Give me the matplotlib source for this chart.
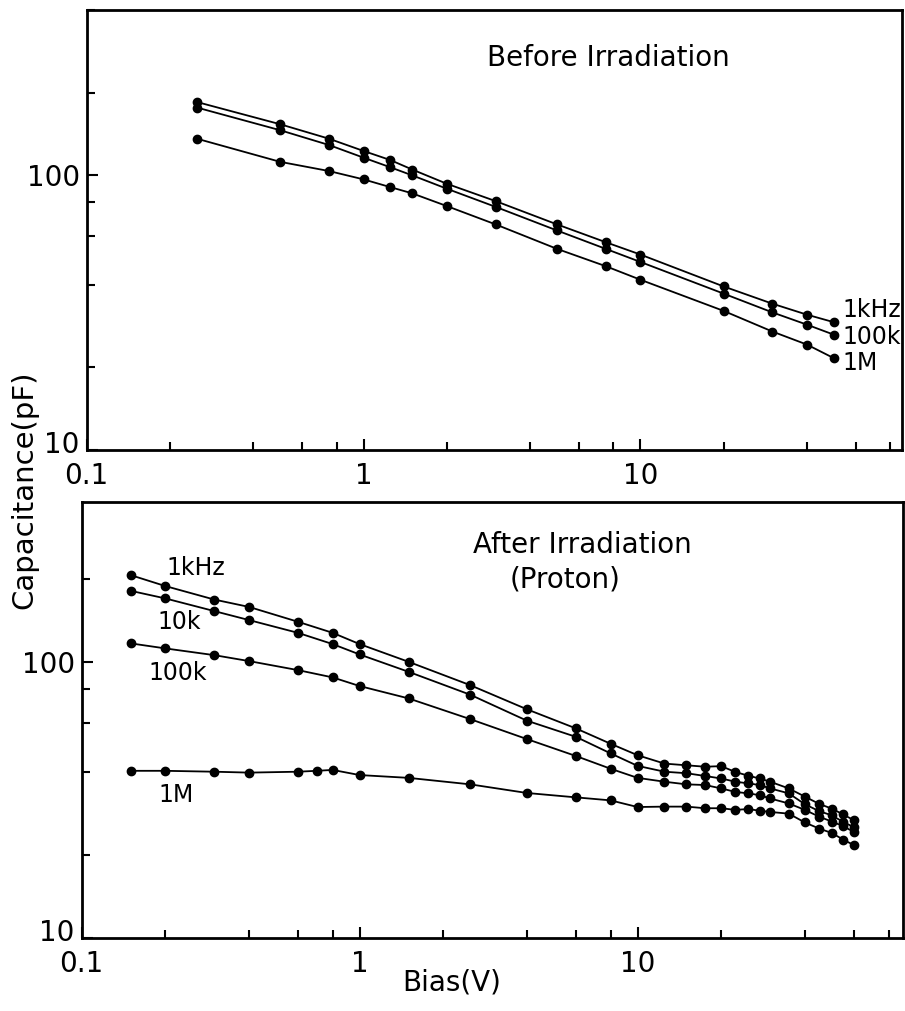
import matplotlib
matplotlib.use('Agg')
import matplotlib.pyplot as plt
from matplotlib.ticker import LogLocator, NullFormatter
from matplotlib.transforms import ScaledTranslation

# before irradiation
top_bias = [0.25, 0.5, 0.75, 1, 1.25, 1.5, 2, 3, 5, 7.5, 10, 20, 30, 40, 50]
top_1k = [185, 153.5, 136, 122.7, 113.7, 105, 93.2, 80.6, 66.3, 57.1, 51.5, 39.4, 34.1, 31.1, 29.2]
top_100k = [176.6, 146, 129, 116, 107, 100, 89.4, 76.8, 63, 54, 48.4, 37.1, 31.7, 28.6, 26.3]
top_1M = [136, 112, 103.7, 96.7, 90.6, 86, 77.3, 66.3, 54, 46.7, 41.7, 32.1, 27.0, 24.2, 21.6]

# after irradiation (proton)
bot_bias = [0.15, 0.2, 0.3, 0.4, 0.6, 0.8, 1, 1.5, 2.5, 4, 6, 8, 10, 12.5, 15, 17.5,
            20, 22.5, 25, 27.5, 30, 35, 40, 45, 50, 55, 60]
bot_1k = [206, 188, 168, 158, 139.6, 127.3, 115.9, 100, 82.3, 67.3, 57.4, 50.5, 45.9,
          42.8, 42.2, 41.7, 41.9, 39.9, 38.7, 37.8, 36.8, 34.8, 32.5, 30.6, 29.4, 28.0, 26.7]
bot_10k = [180.7, 169.6, 152.6, 141.6, 127.3, 115.9, 106.3, 92, 76, 61.2, 53.5, 46.6, 42,
           40, 39.5, 38.6, 37.8, 36.8, 36.3, 35.8, 34.8, 33.4, 30.5, 28.8, 27.8, 26.3, 25.2]
bot_100k = [116.6, 111.8, 105.7, 100.6, 93.3, 87.8, 81.7, 73.7, 62, 52.5, 45.6, 41, 38,
            36.8, 36, 35.8, 34.8, 33.8, 33.4, 32.9, 32, 30.7, 29.1, 27.5, 26.4, 25.4, 24.2]
bot_1M_bias = [0.15, 0.2, 0.3, 0.4, 0.6, 0.7, 0.8, 1, 1.5, 2.5, 4, 6, 8, 10, 12.5, 15, 17.5,
               20, 22.5, 25, 27.5, 30, 35, 40, 45, 50, 55, 60]
bot_1M = [40.3, 40.3, 40, 39.7, 40, 40.3, 40.6, 38.9, 38, 36, 33.5, 32.3, 31.5, 29.8,
          29.9, 29.9, 29.5, 29.5, 29.1, 29.3, 28.9, 28.6, 28.2, 26.2, 24.9, 24.0, 22.7, 21.7]

fig = plt.figure(figsize=(9.05, 10.11), dpi=100)
ax1 = fig.add_axes([0.0958, 0.5549, 0.9006, 0.4352])
ax2 = fig.add_axes([0.0903, 0.0722, 0.9072, 0.4316])


def style(ax, xmax, ymax):
    ax.set_xscale('log')
    ax.set_yscale('log')
    ax.set_xlim(0.1, xmax)
    ax.set_ylim(10, ymax)
    ax.set_xticks([0.1, 1, 10])
    ax.set_xticklabels(['0.1', '1', '10'])
    ax.set_yticks([10, 100])
    ax.set_yticklabels(['10', '100'])
    ax.xaxis.set_minor_locator(LogLocator(base=10, subs=[2, 4, 6, 8]))
    ax.yaxis.set_minor_locator(LogLocator(base=10, subs=[2, 4, 6, 8]))
    ax.xaxis.set_minor_formatter(NullFormatter())
    ax.yaxis.set_minor_formatter(NullFormatter())
    ax.tick_params(which='both', direction='in', top=False, right=False,
                   width=1.5, labelsize=20)
    ax.tick_params(axis='x', which='major', length=8, pad=8.5)
    ax.tick_params(axis='y', which='major', length=8, pad=5)
    ax.tick_params(which='minor', length=6)
    for s in ax.spines.values():
        s.set_linewidth(2)
    # lift the bottom "10" a little so it clears the "0.1" below it
    lab = ax.yaxis.get_major_ticks()[0].label1
    lab.set_transform(lab.get_transform() + ScaledTranslation(0, 6 / 72, fig.dpi_scale_trans))


style(ax1, 88, 400)
style(ax2, 90, 380)

kw = dict(color='k', marker='o', ms=6, lw=1.3)
ax1.plot(top_bias, top_1k, **kw)
ax1.plot(top_bias, top_100k, **kw)
ax1.plot(top_bias, top_1M, **kw)

ax2.plot(bot_bias, bot_1k, **kw)
ax2.plot(bot_bias, bot_10k, **kw)
ax2.plot(bot_bias, bot_100k, **kw)
ax2.plot(bot_1M_bias, bot_1M, **kw)

ax1.text(0.491, 0.891, 'Before Irradiation', transform=ax1.transAxes, fontsize=20, va='center')
ax1.text(0.927, 0.318, '1kHz', transform=ax1.transAxes, fontsize=17, va='center')
ax1.text(0.927, 0.257, '100k', transform=ax1.transAxes, fontsize=17, va='center')
ax1.text(0.927, 0.198, '1M', transform=ax1.transAxes, fontsize=17, va='center')

ax2.text(0.4767, 0.901, 'After Irradiation', transform=ax2.transAxes, fontsize=20, va='center')
ax2.text(0.5217, 0.8205, '(Proton)', transform=ax2.transAxes, fontsize=20, va='center')
ax2.text(0.1027, 0.848, '1kHz', transform=ax2.transAxes, fontsize=17, va='center')
ax2.text(0.0919, 0.724, '10k', transform=ax2.transAxes, fontsize=17, va='center')
ax2.text(0.081, 0.607, '100k', transform=ax2.transAxes, fontsize=17, va='center')
ax2.text(0.093, 0.328, '1M', transform=ax2.transAxes, fontsize=17, va='center')

fig.text(0.0265, 0.516, 'Capacitance(pF)', rotation=90, fontsize=21, ha='center', va='center')
fig.text(0.499, 0.0277, 'Bias(V)', fontsize=20, ha='center', va='center')

fig.savefig('out.png', dpi=100)
